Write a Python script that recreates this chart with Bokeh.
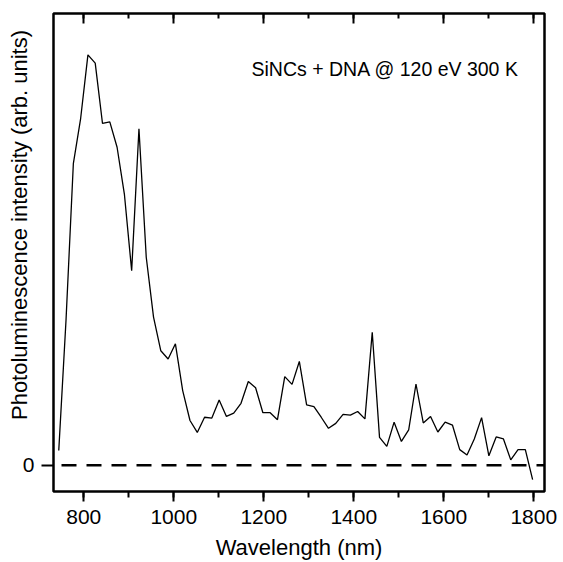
from bokeh.plotting import figure
from bokeh.models import Range1d, LinearAxis, SingleIntervalTicker, FixedTicker, Span, Label
from bokeh.embed import file_html
from bokeh.resources import INLINE

# Wavelength (nm)
wavelength = [744.4, 760.6, 776.8, 793.0, 809.2, 825.4, 841.6, 857.8, 874.0, 890.2,
              906.4, 922.6, 938.8, 955.0, 971.2, 987.4, 1003.6, 1019.8, 1036.0, 1052.2,
              1068.4, 1084.6, 1100.8, 1117.0, 1133.2, 1149.4, 1165.6, 1181.8, 1198.0, 1214.2,
              1230.4, 1246.6, 1262.8, 1279.0, 1295.2, 1311.4, 1327.6, 1343.8, 1360.0, 1376.2,
              1392.4, 1408.6, 1424.8, 1441.0, 1457.2, 1473.4, 1489.6, 1505.8, 1522.0, 1538.2,
              1554.4, 1570.6, 1586.8, 1603.0, 1619.2, 1635.4, 1651.6, 1667.8, 1684.0, 1700.2,
              1716.4, 1732.6, 1748.8, 1765.0, 1781.2, 1797.4]

# Photoluminescence intensity (arb. units), normalised to the maximum
intensity = [0.036, 0.355, 0.735, 0.845, 1.000, 0.980, 0.833, 0.837, 0.775, 0.661,
             0.474, 0.820, 0.507, 0.361, 0.279, 0.259, 0.296, 0.182, 0.109, 0.080,
             0.117, 0.115, 0.159, 0.119, 0.127, 0.151, 0.204, 0.189, 0.128, 0.128,
             0.111, 0.216, 0.197, 0.253, 0.147, 0.143, 0.117, 0.090, 0.102, 0.124,
             0.122, 0.131, 0.113, 0.324, 0.068, 0.046, 0.105, 0.058, 0.086, 0.198,
             0.103, 0.119, 0.081, 0.105, 0.098, 0.038, 0.025, 0.064, 0.116, 0.023,
             0.069, 0.064, 0.013, 0.038, 0.038, -0.035]

x_ticks_interval = 200
y_ticks = [0]

title_text = "SiNCs + DNA @ 120 eV 300 K"
x_label = "Wavelength (nm)"
y_label = "Photoluminescence intensity (arb. units)"

FONT = "Liberation Sans"
NBSP = "\u00a0"

p = figure(width=563, height=562, output_backend="svg", toolbar_location=None,
           x_range=Range1d(732.7, 1823.8), y_range=Range1d(-0.064, 1.101),
           x_axis_type=None, y_axis_type=None,
           min_border_left=53, min_border_right=19, min_border_top=13, min_border_bottom=71,
           background_fill_color="white", border_fill_color="white")
p.outline_line_color = "black"
p.outline_line_width = 2.5

# bottom axis
xb = LinearAxis(ticker=SingleIntervalTicker(interval=x_ticks_interval, num_minor_ticks=2))
xb.axis_line_color = None
xb.major_tick_line_color = "black"
xb.major_tick_line_width = 2
xb.major_tick_in = 0
xb.major_tick_out = 10
xb.minor_tick_line_color = "black"
xb.minor_tick_line_width = 2
xb.minor_tick_in = 0
xb.minor_tick_out = 6
xb.major_label_text_font = FONT
xb.major_label_text_font_size = "21px"
xb.major_label_text_color = "black"
xb.major_label_standoff = 8
xb.axis_label = x_label
xb.axis_label_text_font = FONT
xb.axis_label_text_font_size = "22px"
xb.axis_label_text_font_style = "normal"
xb.axis_label_text_color = "black"
xb.axis_label_standoff = 8
p.add_layout(xb, "below")

# top axis (inward ticks, no labels)
xt = LinearAxis(ticker=SingleIntervalTicker(interval=x_ticks_interval, num_minor_ticks=2))
xt.axis_line_color = None
xt.major_tick_line_color = "black"
xt.major_tick_line_width = 2
xt.major_tick_in = 10
xt.major_tick_out = 0
xt.minor_tick_line_color = "black"
xt.minor_tick_line_width = 2
xt.minor_tick_in = 5
xt.minor_tick_out = 0
xt.major_label_text_font_size = "0px"
xt.major_label_standoff = 0
p.add_layout(xt, "above")

# left axis
yl = LinearAxis(ticker=FixedTicker(ticks=y_ticks, minor_ticks=[]))
yl.axis_line_color = None
yl.major_tick_line_color = "black"
yl.major_tick_line_width = 2
yl.major_tick_in = 0
yl.major_tick_out = 12
yl.major_label_text_font = FONT
yl.major_label_text_font_size = "21px"
yl.major_label_text_color = "black"
yl.major_label_standoff = 7
yl.axis_label = NBSP * 9 + y_label
yl.axis_label_text_font = FONT
yl.axis_label_text_font_size = "22px"
yl.axis_label_text_font_style = "normal"
yl.axis_label_text_color = "black"
yl.axis_label_standoff = -12
p.add_layout(yl, "left")

p.add_layout(Span(location=0, dimension="width", line_color="black", line_width=2.5,
                  line_dash="15 10", line_dash_offset=17))

p.line(wavelength, intensity, line_color="black", line_width=1.3)

p.add_layout(Label(x=1172.7, y=0.966, text=title_text, text_font=FONT,
                   text_font_size="19.5px", text_color="black",
                   text_align="left", text_baseline="alphabetic"))

open("out.html", "w").write(file_html(p, INLINE))
